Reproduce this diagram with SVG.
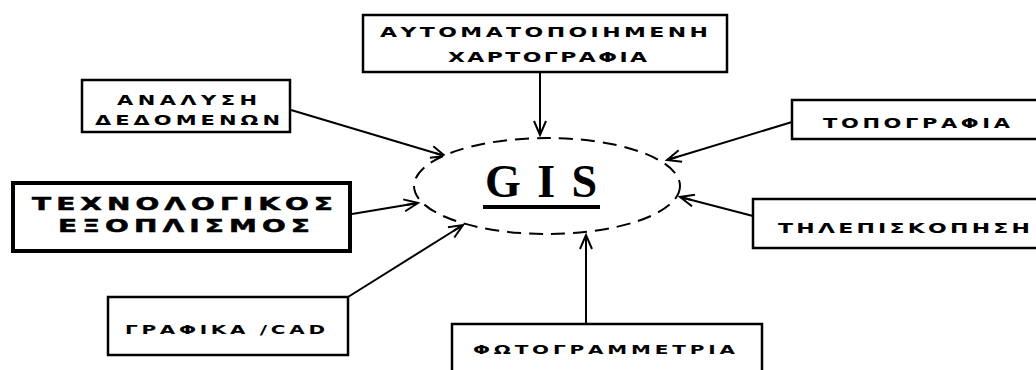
<svg xmlns="http://www.w3.org/2000/svg" width="1036" height="370" viewBox="0 0 1036 370">
<style>
.box{fill:#fff;stroke:#000;stroke-width:2.5}
.lbl{font-family:"DejaVu Sans","Liberation Sans",Arial,sans-serif;font-weight:bold;fill:#000}
.con{stroke:#000;stroke-width:2;fill:none;marker-end:url(#ah)}
</style>
<defs>
<marker id="ah" markerUnits="userSpaceOnUse" markerWidth="18" markerHeight="14" refX="15" refY="7" orient="auto">
<path d="M1,1 L15,7 L1,13 M4,7 L15,7" fill="none" stroke="#000" stroke-width="2"/>
</marker>
</defs>
<rect width="1036" height="370" fill="#fff"/>
<g id="connectors">
<line class="con" x1="540" y1="72" x2="540" y2="135"/>
<line class="con" x1="291" y1="110" x2="445" y2="156"/>
<line class="con" x1="352" y1="214" x2="418" y2="203"/>
<line class="con" x1="348" y1="297" x2="463" y2="225"/>
<line class="con" x1="586" y1="324" x2="586" y2="235"/>
<line class="con" x1="792" y1="122" x2="667" y2="160"/>
<line class="con" x1="753" y1="216" x2="680" y2="197"/>
</g>
<g id="gis">
<ellipse cx="547" cy="186" rx="133" ry="48" fill="#fff" stroke="#000" stroke-width="2" stroke-dasharray="14 8"/>
<text x="485" y="197" textLength="112" lengthAdjust="spacing" font-family="'Liberation Serif','Times New Roman',serif" font-weight="bold" font-size="46">GIS</text>
<rect x="483" y="205" width="117" height="4" fill="#000"/>
</g>
<g id="node-chartografia">
<rect class="box" x="363" y="15" width="364" height="57"/>
<text class="lbl" transform="translate(380,37) scale(1,0.6)" font-size="22" textLength="328" lengthAdjust="spacing">ΑΥΤΟΜΑΤΟΠΟΙΗΜΕΝΗ</text>
<text class="lbl" transform="translate(448,62) scale(1,0.6)" font-size="22" textLength="199" lengthAdjust="spacing">ΧΑΡΤΟΓΡΑΦΙΑ</text>
</g>
<g id="node-analysi">
<rect class="box" x="82" y="80" width="208" height="52"/>
<text class="lbl" transform="translate(117,105) scale(1,0.65)" font-size="21" textLength="140" lengthAdjust="spacing">ΑΝΑΛΥΣΗ</text>
<text class="lbl" transform="translate(95,125) scale(1,0.65)" font-size="21" textLength="185" lengthAdjust="spacing">ΔΕΔΟΜΕΝΩΝ</text>
</g>
<g id="node-texnologikos">
<rect x="13" y="183" width="337" height="68" fill="#fff" stroke="#000" stroke-width="4"/>
<text class="lbl" transform="translate(32,210) scale(1,0.6)" font-size="28" stroke="#000" stroke-width="0.8" textLength="301" lengthAdjust="spacing">ΤΕΧΝΟΛΟΓΙΚΟΣ</text>
<text class="lbl" transform="translate(58,232) scale(1,0.6)" font-size="28" stroke="#000" stroke-width="0.8" textLength="252" lengthAdjust="spacing">ΕΞΟΠΛΙΣΜΟΣ</text>
</g>
<g id="node-grafika">
<rect class="box" x="108" y="297" width="240" height="58"/>
<text class="lbl" transform="translate(125,334) scale(1,0.65)" font-size="20" textLength="200" lengthAdjust="spacing">ΓΡΑΦΙΚΑ /CAD</text>
</g>
<g id="node-fotogrammetria">
<rect class="box" x="452" y="324" width="310" height="50"/>
<text class="lbl" transform="translate(473,354) scale(1,0.6)" font-size="20" textLength="262" lengthAdjust="spacing">ΦΩΤΟΓΡΑΜΜΕΤΡΙΑ</text>
</g>
<g id="node-topografia">
<rect class="box" x="792" y="100" width="250" height="39"/>
<text class="lbl" transform="translate(823,128) scale(1,0.7)" font-size="21" textLength="187" lengthAdjust="spacing">ΤΟΠΟΓΡΑΦΙΑ</text>
</g>
<g id="node-tilepiskopisi">
<rect class="box" x="753" y="199" width="290" height="49"/>
<text class="lbl" transform="translate(778,233) scale(1,0.65)" font-size="22" textLength="252" lengthAdjust="spacing">ΤΗΛΕΠΙΣΚΟΠΗΣΗ</text>
</g>
</svg>
